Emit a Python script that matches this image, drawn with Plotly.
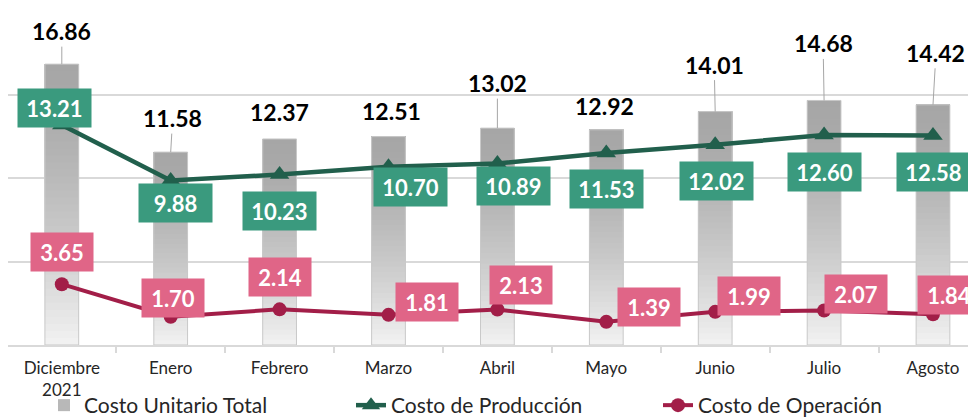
import plotly.graph_objects as go

# ---------------- data ----------------
months = ["Diciembre<br>2021", "Enero", "Febrero", "Marzo", "Abril",
          "Mayo", "Junio", "Julio", "Agosto"]
costo_total = [16.86, 11.58, 12.37, 12.51, 13.02, 12.92, 14.01, 14.68, 14.42]
costo_produccion = [13.21, 9.88, 10.23, 10.70, 10.89, 11.53, 12.02, 12.60, 12.58]
costo_operacion = [3.65, 1.70, 2.14, 1.81, 2.13, 1.39, 1.99, 2.07, 1.84]

# ---------------- label placement (pixel offsets, style only) ----------------
total_dx = [0, 2, 0, 3, 0, -2, -1, -1, 3]
total_dy = [-33, -34, -27, -26, -45, -24, -47, -57, -52]
total_leader = [True, True, False, False, True, False, True, True, True]
prod_dx = [-7, 5, 0, 22, 16, 0, 1, 0, 1]
prod_dy = [-17, 23, 36, 20, 22, 36, 36, 37, 37]
oper_dx = [0, 2, 0, 39, 24, 43, 34, 32, 16]
oper_dy = [-32, -19, -32, -13, -25, -15, -16, -17, -19]

FONT = "Lato, 'Open Sans', sans-serif"
GREEN_LINE = "#215f4c"
GREEN_BOX = "#3a9a7e"
PINK_LINE = "#a21e48"
PINK_BOX = "#e06587"

fig = go.Figure()

# ---- gradient bars: overlapping slices, each from its base up to the bar top
N = 40
top_c, bot_c = 166, 242
BAR_W = 0.31
for k in range(N):
    t = (k + 0.5) / N  # fraction of height from bottom
    g = int(round(top_c + (bot_c - top_c) * (1 - t) ** 1.5))
    col = f"rgb({g},{g},{g})"
    show = (k == int(N * 0.6))
    fig.add_trace(go.Bar(
        x=months,
        y=[v * (N - k) / N for v in costo_total],
        base=[v * k / N for v in costo_total],
        width=BAR_W,
        marker=dict(color=col, line=dict(width=0)),
        name="Costo Unitario Total",
        showlegend=show,
        hoverinfo="skip",
    ))
# thin outline around each bar
fig.add_trace(go.Bar(
    x=months, y=costo_total, base=[0] * len(costo_total), width=BAR_W,
    marker=dict(color="rgba(0,0,0,0)", line=dict(color="#c9c9c9", width=1)),
    showlegend=False, hoverinfo="skip",
))

fig.add_trace(go.Scatter(
    x=months, y=costo_produccion, mode="lines+markers",
    name="Costo de Producción",
    line=dict(color=GREEN_LINE, width=4.5),
    marker=dict(symbol="triangle-up", size=17, color=GREEN_LINE),
))
fig.add_trace(go.Scatter(
    x=months, y=costo_operacion, mode="lines+markers",
    name="Costo de Operación",
    line=dict(color=PINK_LINE, width=4),
    marker=dict(symbol="circle", size=14, color=PINK_LINE),
))

annotations = []
for i, m in enumerate(months):
    v = costo_total[i]
    if total_leader[i]:
        annotations.append(dict(
            x=m, y=v, text=f"<b>{v:.2f}</b>", showarrow=True,
            ax=total_dx[i], ay=total_dy[i], arrowhead=0, arrowwidth=1,
            arrowcolor="#a6a6a6", standoff=0,
            font=dict(family=FONT, size=23, color="#000000"),
        ))
    else:
        annotations.append(dict(
            x=m, y=v, text=f"<b>{v:.2f}</b>", showarrow=False,
            xshift=total_dx[i], yshift=-total_dy[i],
            font=dict(family=FONT, size=23, color="#000000"),
        ))
    p = costo_produccion[i]
    annotations.append(dict(
        x=m, y=p, text=f"<b>{p:.2f}</b>", showarrow=False,
        xshift=prod_dx[i], yshift=-prod_dy[i],
        bgcolor=GREEN_BOX, width=73, height=38, borderpad=0,
        font=dict(family=FONT, size=22, color="#ffffff"),
    ))
    o = costo_operacion[i]
    annotations.append(dict(
        x=m, y=o, text=f"<b>{o:.2f}</b>", showarrow=False,
        xshift=oper_dx[i], yshift=-oper_dy[i],
        bgcolor=PINK_BOX, width=62, height=38, borderpad=0,
        font=dict(family=FONT, size=22, color="#ffffff"),
    ))

# the page body has an 8px default margin, so the figure is sized to fit the window
fig.update_layout(
    width=968, height=410,
    margin=dict(l=0, r=0, t=3, b=73, autoexpand=False),
    paper_bgcolor="white", plot_bgcolor="white",
    barmode="overlay",
    font=dict(family=FONT, color="#262626"),
    annotations=annotations,
    showlegend=True,
    legend=dict(
        orientation="h", x=0.0372, xanchor="left", y=-0.2425, yanchor="bottom",
        font=dict(family=FONT, size=21, color="#262626"),
        entrywidth=262, entrywidthmode="pixels",
        bgcolor="rgba(0,0,0,0)", itemclick=False, borderwidth=0,
    ),
    xaxis=dict(
        type="category", range=[-0.494, 8.395],
        showline=True, linecolor="#d9d9d9", linewidth=1.5,
        ticks="outside", tickson="boundaries", ticklen=6, tickcolor="#d9d9d9",
        tickwidth=1.5, showgrid=False, ticklabelstandoff=7,
        tickfont=dict(family=FONT, size=17, color="#262626"),
        fixedrange=True,
    ),
    yaxis=dict(
        range=[0, 20.05], dtick=5, showgrid=True, gridcolor="#d9d9d9",
        gridwidth=1.5, zeroline=False, showticklabels=False, fixedrange=True,
    ),
)

fig.write_html("out.html")
